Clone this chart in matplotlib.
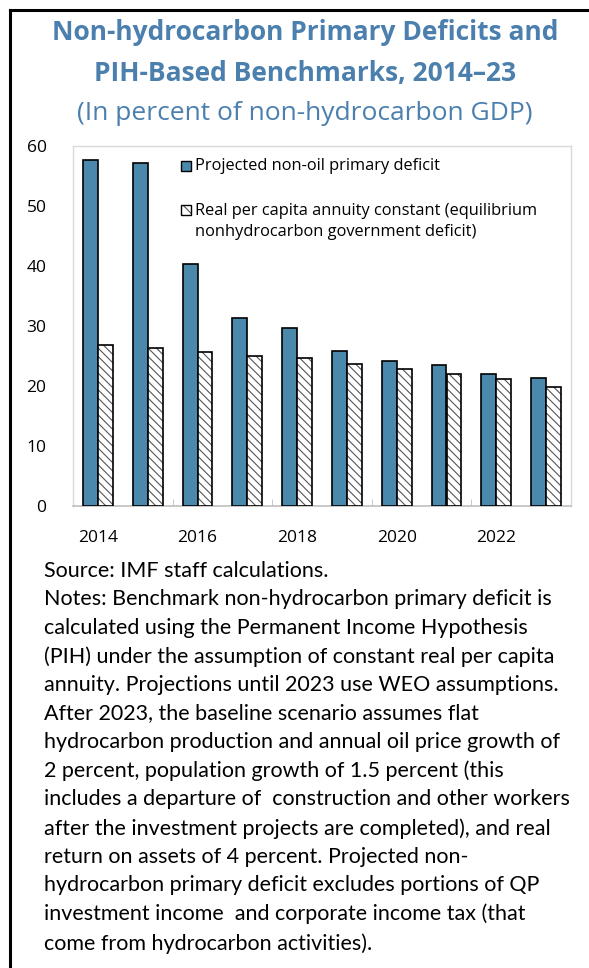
import numpy as np
import matplotlib
matplotlib.use("Agg")
import matplotlib.pyplot as plt
from matplotlib.patches import Rectangle
from matplotlib.lines import Line2D

years = ["2014", "2015", "2016", "2017", "2018", "2019", "2020", "2021", "2022", "2023"]
projected_deficit = [57.7, 57.2, 40.3, 31.4, 29.7, 25.9, 24.2, 23.5, 22.0, 21.3]
annuity_benchmark = [26.9, 26.4, 25.6, 25.0, 24.6, 23.7, 22.8, 22.0, 21.1, 19.9]
yticks = [0, 10, 20, 30, 40, 50, 60]

legend_labels = [
    "Projected non-oil primary deficit",
    "Real per capita annuity constant (equilibrium\nnonhydrocarbon government deficit)",
]
title_lines = [
    "Non-hydrocarbon Primary Deficits and",
    "PIH-Based Benchmarks, 2014\u201323",
]
subtitle = "(In percent of non-hydrocarbon GDP)"
notes = [
    "Source: IMF staff calculations.",
    "Notes: Benchmark non-hydrocarbon primary deficit is",
    "calculated using the Permanent Income Hypothesis",
    "(PIH) under the assumption of constant real per capita",
    "annuity. Projections until 2023 use WEO assumptions.",
    "After 2023, the baseline scenario assumes flat",
    "hydrocarbon production and annual oil price growth of",
    "2 percent, population growth of 1.5 percent (this",
    "includes a departure of  construction and other workers",
    "after the investment projects are completed), and real",
    "return on assets of 4 percent. Projected non-",
    "hydrocarbon primary deficit excludes portions of QP",
    "investment income  and corporate income tax (that",
    "come from hydrocarbon activities).",
]

BLUE = "#4a89ac"
TITLE_BLUE = "#4a7fae"
GRID = "#d9d9d9"
HATCH_GREY = "#555555"

plt.rcParams["font.family"] = ["Open Sans", "DejaVu Sans"]
plt.rcParams["hatch.linewidth"] = 0.8

W, H = 589, 968
fig = plt.figure(figsize=(W / 100, H / 100), dpi=100)

def fx(px):
    return px / W

def fy(py):
    return 1 - py / H

# outer frame: top and left edges only
fig.add_artist(Line2D([fx(10), 1], [fy(10), fy(10)], color="black", lw=2.2,
                      transform=fig.transFigure))
fig.add_artist(Line2D([fx(10), fx(10)], [fy(10), 0], color="black", lw=2.2,
                      transform=fig.transFigure))

fig.text(fx(305), fy(33), title_lines[0], ha="center", va="center",
         fontsize=19, fontweight="bold", color=TITLE_BLUE)
fig.text(fx(305), fy(73), title_lines[1], ha="center", va="center",
         fontsize=19, fontweight="bold", color=TITLE_BLUE)
fig.text(fx(305), fy(113), subtitle, ha="center", va="center",
         fontsize=19, color=TITLE_BLUE)

ax = fig.add_axes([fx(73), fy(506), fx(571) - fx(73), fy(146) - fy(506)])

x = np.arange(len(years))
bw = 0.3
ax.bar(x - bw / 2, projected_deficit, bw, color=BLUE, edgecolor="black", lw=1.2,
       zorder=3)
# hatch drawn in grey underneath, black outline on top
ax.bar(x + bw / 2, annuity_benchmark, bw, color="white", edgecolor=HATCH_GREY, lw=0,
       hatch="\\\\\\\\", zorder=3)
ax.bar(x + bw / 2, annuity_benchmark, bw, fill=False, edgecolor="black", lw=1.2,
       zorder=4)

ax.set_xlim(-0.5, len(years) - 0.5)
ax.set_ylim(0, 60)
ax.set_yticks(yticks)
ax.set_xticks(x[::2])
ax.set_xticklabels(years[::2])
ax.set_xticks(x[1:-1:2] + 0.5, minor=True)
ax.tick_params(axis="y", length=0, pad=19, labelsize=12.5)
ax.tick_params(axis="x", which="major", length=0, pad=17, labelsize=12.5)
ax.tick_params(axis="x", which="minor", direction="in", length=5, color="#bfbfbf")

for side in ["top", "right", "left"]:
    ax.spines[side].set_color(GRID)
    ax.spines[side].set_linewidth(1.0)
ax.spines["bottom"].set_color("#bfbfbf")
ax.spines["bottom"].set_linewidth(1.2)

# legend drawn in axes coordinates
def axx(px):
    return (px - 73) / (571 - 73)

def axy(py):
    return (506 - py) / (506 - 146)

sq_w = 10 / (571 - 73)
sq_h = 10 / (506 - 146)
ax.add_patch(Rectangle((axx(181), axy(166) - sq_h / 2), sq_w, sq_h,
                       transform=ax.transAxes, facecolor=BLUE, edgecolor="black",
                       lw=1.0, zorder=4))
ax.add_patch(Rectangle((axx(181), axy(210) - sq_h / 2), sq_w, sq_h,
                       transform=ax.transAxes, facecolor="white", edgecolor=HATCH_GREY,
                       lw=0, hatch="\\\\\\", zorder=4))
ax.add_patch(Rectangle((axx(181), axy(210) - sq_h / 2), sq_w, sq_h,
                       transform=ax.transAxes, fill=False, edgecolor="black",
                       lw=1.0, zorder=5))
ax.text(axx(195), axy(166), legend_labels[0], transform=ax.transAxes,
        ha="left", va="center", fontsize=11.8)
ax.text(axx(195), axy(221.5), legend_labels[1], transform=ax.transAxes,
        ha="left", va="center", fontsize=11.8, linespacing=1.45)

fig.text(fx(44), fy(561), "\n".join(notes), ha="left", va="top",
         fontsize=15.5, linespacing=1.52, family=["Lato", "DejaVu Sans"])

fig.savefig("out.png", dpi=100)
